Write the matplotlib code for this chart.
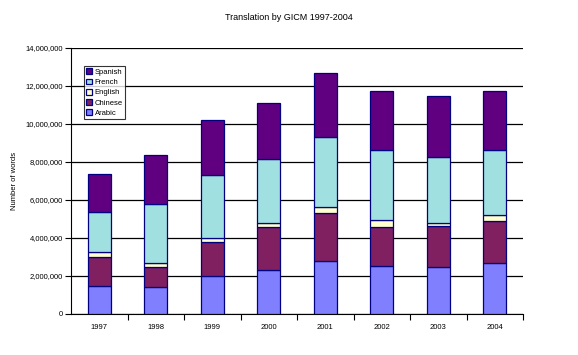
import numpy as np
import matplotlib.pyplot as plt
from matplotlib.ticker import FuncFormatter

years = ["1997", "1998", "1999", "2000", "2001", "2002", "2003", "2004"]
arabic = [1490000, 1410000, 2020000, 2300000, 2770000, 2510000, 2460000, 2670000]
chinese = [1490000, 1050000, 1750000, 2260000, 2530000, 2090000, 2150000, 2240000]
english = [270000, 210000, 210000, 230000, 330000, 330000, 160000, 280000]
french = [2130000, 3100000, 3320000, 3370000, 3670000, 3680000, 3480000, 3420000]
spanish = [1970000, 2580000, 2900000, 2940000, 3370000, 3110000, 3220000, 3110000]

series = [
    ("Arabic", arabic, "#8080FF"),
    ("Chinese", chinese, "#802060"),
    ("English", english, "#FFFFCC"),
    ("French", french, "#A0E0E0"),
    ("Spanish", spanish, "#600080"),
]

plt.rcParams.update({
    "font.family": ["Liberation Sans", "DejaVu Sans"],
    "font.size": 5.5,
})

fig = plt.figure(figsize=(5.78, 3.55), dpi=100)
ax = fig.add_axes([71 / 578, 41 / 355, 452 / 578, 266 / 355])

x = np.arange(len(years))
bottom = np.zeros(len(years))
handles = []
for name, vals, color in series:
    b = ax.bar(x, vals, width=0.4, bottom=bottom, color=color,
               edgecolor="#000080", linewidth=0.9, label=name, zorder=3)
    handles.append(b)
    bottom += np.array(vals)

ax.set_xlim(-0.5, len(years) - 0.5)
ax.set_ylim(0, 14000000)
ax.set_yticks(np.arange(0, 14000001, 2000000))
ax.yaxis.set_major_formatter(FuncFormatter(lambda v, p: f"{int(v):,}"))
ax.set_xticks(x)
ax.set_xticklabels(years)
ax.set_xticks(np.arange(0.5, len(years) - 0.4, 1.0), minor=True)
ax.tick_params(axis="x", which="major", length=0, pad=7)
ax.tick_params(axis="x", which="minor", length=4, width=0.8, direction="out")
ax.tick_params(axis="y", length=4, width=0.8, direction="out", pad=2)
ax.grid(axis="y", color="black", linewidth=0.9, zorder=0)
for s in ["top", "right"]:
    ax.spines[s].set_visible(False)
for s in ["left", "bottom"]:
    ax.spines[s].set_linewidth(0.8)

ax.set_ylabel("Number of words", fontsize=5.5, labelpad=5)
fig.text(0.5, 1 - 17 / 355, "Translation by GICM 1997-2004", ha="center",
         va="center", fontsize=6.5)

leg = ax.legend(handles[::-1], [s[0] for s in series][::-1],
                loc="upper left", bbox_to_anchor=(13 / 452, 1 - 18 / 266),
                frameon=True, fancybox=False, edgecolor="black",
                fontsize=5.5, handlelength=0.8, handleheight=0.8,
                handletextpad=0.3, borderpad=0.3, labelspacing=0.35,
                borderaxespad=0)
leg.get_frame().set_linewidth(0.8)
leg.set_zorder(5)

fig.savefig("out.png", dpi=100, facecolor="white")
